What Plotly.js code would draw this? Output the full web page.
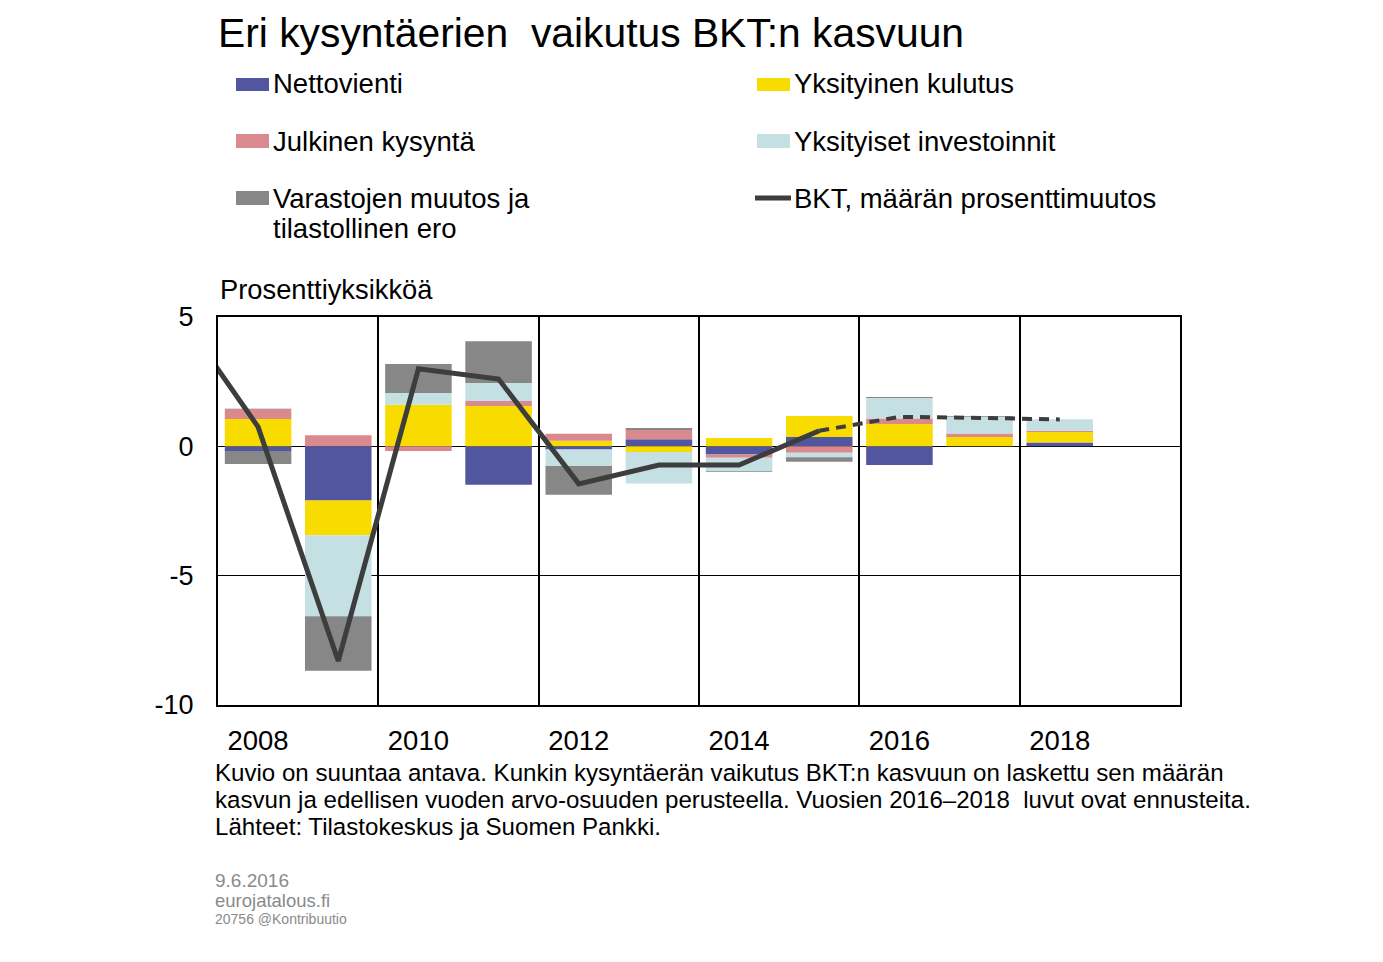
<!DOCTYPE html>
<html>
<head>
<meta charset="utf-8">
<script src="https://cdn.plot.ly/plotly-3.0.1.min.js"></script>
<style>
  html, body { margin: 0; padding: 0; background: #fff; }
  #chart { width: 1383px; height: 962px; }
</style>
</head>
<body>
<div id="chart"></div>
<script>
// Contributions to GDP growth by demand component, percentage points
const years = [2008, 2009, 2010, 2011, 2012, 2013, 2014, 2015, 2016, 2017, 2018];
const nettovienti   = [-0.18, -2.09,  0.00, -1.49, -0.12,  0.27, -0.32,  0.36, -0.72, 0.00, 0.15];
const yksKulutus    = [ 1.06, -1.35,  1.61,  1.56,  0.22, -0.22,  0.32,  0.81,  0.86, 0.36, 0.40];
const julkinen      = [ 0.39,  0.43, -0.18,  0.19,  0.27,  0.36, -0.12, -0.25,  0.22, 0.14, 0.05];
const investoinnit  = [ 0.03, -3.13,  0.45,  0.70, -0.64, -1.22, -0.52, -0.17,  0.79, 0.64, 0.45];
const varastot      = [-0.50, -2.11,  1.12,  1.61, -1.11,  0.08, -0.03, -0.18,  0.04, 0.03, 0.00];

// GDP volume change, %: outturn and forecast
const bktYears     = [2007, 2008, 2009, 2010, 2011, 2012, 2013, 2014, 2015];
const bkt          = [5.2, 0.75, -8.3, 3.0, 2.6, -1.45, -0.72, -0.72, 0.6];
const ennusteYears = [2015, 2016, 2017, 2018];
const ennuste      = [0.6, 1.14, 1.1, 1.04];

const seriesNames = ['Nettovienti', 'Yksityinen kulutus', 'Julkinen kysyntä',
                     'Yksityiset investoinnit', 'Varastojen muutos ja<br>tilastollinen ero',
                     'BKT, määrän prosenttimuutos'];
const xTickLabels = ['2008', '2010', '2012', '2014', '2016', '2018'];
const xTickVals = [2008, 2010, 2012, 2014, 2016, 2018];

const COL = {
  net: '#51569f',
  cons: '#f8dc00',
  pub: '#da8a8f',
  inv: '#c5e0e3',
  stock: '#878787',
  line: '#3d3d3d'
};
const FONT = 'Liberation Sans, Arial, sans-serif';

function barTrace(name, vals, color) {
  return {
    type: 'bar', name: name, x: years, y: vals,
    width: 0.83,
    marker: { color: color, line: { width: 0 } },
    hoverinfo: 'skip'
  };
}

const traces = [
  barTrace(seriesNames[0], nettovienti, COL.net),
  barTrace(seriesNames[1], yksKulutus, COL.cons),
  barTrace(seriesNames[2], julkinen, COL.pub),
  barTrace(seriesNames[3], investoinnit, COL.inv),
  barTrace(seriesNames[4], varastot, COL.stock),
  {
    type: 'scatter', mode: 'lines', name: seriesNames[5],
    x: bktYears, y: bkt,
    line: { color: COL.line, width: 5 },
    hoverinfo: 'skip'
  },
  {
    type: 'scatter', mode: 'lines', name: seriesNames[5] + ' (ennuste)',
    x: ennusteYears, y: ennuste,
    line: { color: COL.line, width: 4, dash: '10px,7px' },
    hoverinfo: 'skip'
  }
];

// plot area in pixels: left 218, right 1180, top 317, bottom 705
const L = 218, R = 1180, T = 317, B = 705;
const px = x => (x - L) / (R - L);
const py = y => (B - y) / (B - T);

function label(text, x, y, size, color) {
  return {
    text: text, xref: 'paper', yref: 'paper', x: px(x), y: py(y),
    xanchor: 'left', yanchor: 'middle', showarrow: false, align: 'left',
    borderpad: 0,
    font: { family: FONT, size: size, color: color || '#000' }
  };
}

const annotations = [
  label('Eri kysyntäerien  vaikutus BKT:n kasvuun', 217, 33, 40.8),
  label(seriesNames[0], 272, 84, 27.5),
  label(seriesNames[1], 793, 84, 27.5),
  label(seriesNames[2], 272, 141, 27.5),
  label(seriesNames[3], 793, 141, 27.5),
  label('Varastojen muutos ja', 272, 198, 27.5),
  label('tilastollinen ero', 272, 229, 27.5),
  label(seriesNames[5], 793, 198, 27.5),
  label('Prosenttiyksikköä', 219, 289, 27.3),
  label('Kuvio on suuntaa antava. Kunkin kysyntäerän vaikutus BKT:n kasvuun on laskettu sen määrän', 214, 772, 24.1),
  label('kasvun ja edellisen vuoden arvo-osuuden perusteella. Vuosien 2016–2018  luvut ovat ennusteita.', 214, 799, 24.1),
  label('Lähteet: Tilastokeskus ja Suomen Pankki.', 214, 826, 24.1),
  label('9.6.2016', 214, 880, 19, '#8a8a8a'),
  label('eurojatalous.fi', 214, 900, 18.5, '#8a8a8a'),
  label('20756 @Kontribuutio', 214, 919, 14, '#8a8a8a')
];

function swatch(x0, x1, y0, y1, color) {
  return {
    type: 'rect', xref: 'paper', yref: 'paper',
    x0: px(x0), x1: px(x1), y0: py(y1), y1: py(y0),
    fillcolor: color, line: { width: 0 }, layer: 'above'
  };
}

const shapes = [
  swatch(236, 269, 78, 91, COL.net),
  swatch(757, 790, 78, 91, COL.cons),
  swatch(236, 269, 134, 148, COL.pub),
  swatch(757, 790, 134, 148, COL.inv),
  swatch(236, 269, 191, 205, COL.stock),
  {
    type: 'line', xref: 'paper', yref: 'paper',
    x0: px(755), x1: px(791), y0: py(198), y1: py(198),
    line: { color: COL.line, width: 5 }
  }
];

const layout = {
  width: 1383, height: 962,
  margin: { l: L, r: 1383 - R, t: T, b: 962 - B, pad: 0 },
  paper_bgcolor: '#fff', plot_bgcolor: '#fff',
  barmode: 'relative',
  showlegend: false,
  hovermode: false,
  font: { family: FONT, color: '#000' },
  xaxis: {
    range: [2007.5, 2019.5],
    tickmode: 'array', tickvals: xTickVals, ticktext: xTickLabels,
    ticks: 'outside', ticklen: 10, tickcolor: 'rgba(0,0,0,0)',
    tickfont: { family: FONT, size: 27.5, color: '#000' },
    showgrid: false,
    minor: {
      tickmode: 'array',
      tickvals: [2009.5, 2011.5, 2013.5, 2015.5, 2017.5],
      showgrid: true, gridcolor: '#000', gridwidth: 2, ticks: ''
    },
    showline: true, mirror: true, linecolor: '#000', linewidth: 2,
    zeroline: false, fixedrange: true
  },
  yaxis: {
    range: [-10, 5],
    tickmode: 'array', tickvals: [-10, -5, 0, 5], ticktext: ['-10', '-5', '0', '5'],
    ticks: 'outside', ticklen: 17, tickcolor: 'rgba(0,0,0,0)',
    tickfont: { family: FONT, size: 27, color: '#000' },
    showgrid: true, gridcolor: '#000', gridwidth: 1,
    zeroline: true, zerolinecolor: '#000', zerolinewidth: 1,
    showline: true, mirror: true, linecolor: '#000', linewidth: 2,
    fixedrange: true
  },
  annotations: annotations,
  shapes: shapes
};

Plotly.newPlot('chart', traces, layout, { staticPlot: true, displayModeBar: false });
</script>
</body>
</html>
